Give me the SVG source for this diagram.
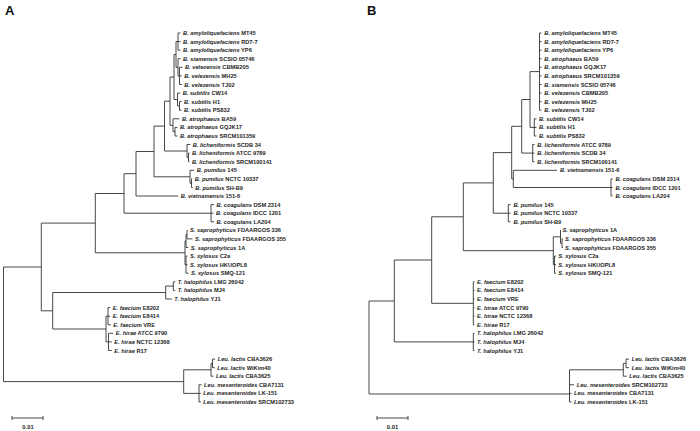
<svg xmlns="http://www.w3.org/2000/svg" width="700" height="431" viewBox="0 0 700 431">
<style>
.br{fill:none;stroke:#333;stroke-width:0.9}
text{font-family:"Liberation Sans",Arial,sans-serif;font-size:5.7px;font-weight:bold;fill:#1e1e1e}
.i{font-style:italic}
.pl{font-size:13px;font-weight:bold;fill:#111}
.sc{font-size:5.8px;text-anchor:middle}
</style>
<rect width="700" height="431" fill="#fff"/>
<text class="pl" x="5" y="15">A</text>
<text class="pl" x="367" y="15">B</text>

<g id="connectors">
<!-- Panel A -->
<path class="br" d="M3.5,267V381.6M3.5,267H41.3M3.5,381.6H183.7
M41.3,223.1V310.8M41.3,223.1H95.3M41.3,310.8H52.7
M52.7,292.5V329M52.7,292.5H165.7M52.7,329H106
M165.7,286.1V299M165.7,286.1H173.3M173.3,281.8V290.4M173.3,281.8H175.2M173.3,290.4H175.2M165.7,299H171.8
M106,316.2V341.9M106,316.2H108M108,307.6V324.8M108,307.6H110.2M108,316.2H110.2M108,324.8H110.8
M106,341.9H108.5M108.5,333.3V350.5M108.5,333.3H113.2M108.5,341.9H111.8M108.5,350.5H111.8
M95.3,193.5V252.8M95.3,252.8H185M185,240.9V264.7
M185,240.9H186M186,234.6V247.5M186,234.6H187M187,230.3V238.9M187,230.3H187.5M187,238.9H192.5M186,247.5H188.2
M185,264.7H186M186,256.1V273.2M186,256.1H187.5M186,264.7H187.5M186,273.2H188.5
M95.3,193.5H124M124,173.7V213.2M124,213.2H211M211,204.6V221.8M211,204.6H214M211,213.2H213.5M211,221.8H214
M124,173.7H136M136,151.5V196M136,196H178.2
M136,151.5H154M154,126.1V176.8
M154,176.8H190M190,170.3V183.2M190,170.3H194.2M190,183.2H191.5M191.5,178.9V187.5M191.5,178.9H192.2M191.5,187.5H192.8
M154,126.1H164.5M164.5,101.2V151
M164.5,151H187M187,144.5V157.4M187,144.5H190.2M187,157.4H188.5M188.5,153.1V161.7M188.5,153.1H189.5M188.5,161.7H189.5
M164.5,101.2H170M170,77V125.3
M170,125.3H173M173,118.8V131.7M173,118.8H179.5M173,131.7H175M175,127.4V136M175,127.4H177.5M175,136H177.5
M170,77H174M174,54.5V99.5
M174,99.5H177.5M177.5,93.1V105.9M177.5,93.1H180.2M177.5,105.9H179.5M179.5,101.6V110.2M179.5,101.6H181.5M179.5,110.2H181.5
M174,54.5H176M176,41.6V67.3
M176,41.6H178M178,33V50.2M178,33H180.5M178,41.6H180.5M178,50.2H180.5
M176,67.3H178M178,58.7V75.9M178,58.7H180.5M178,75.9H179.5M179.5,67.3V84.5M179.5,67.3H182.5M179.5,75.9H181.8M179.5,84.5H181.8
M183.7,369.8V393.4M183.7,369.8H211M211,363.4V376.2M211,376.2H213.5M211,363.4H212.5M212.5,359.1V367.7M212.5,359.1H215.2M212.5,367.7H214.8
M183.7,393.4H199M199,384.8V402M199,384.8H201.5M199,393.4H200.8M199,402H200.8"/>
<!-- Panel B -->
<path class="br" d="M369,301V394M369,301H394.3M369,394H569.5
M394.3,260V341.9M394.3,341.9H473.3M473.3,333.3V350.5M473.3,333.3H474.5M473.3,341.9H474.5M473.3,350.5H474.5
M394.3,260H431.7M431.7,216.8V303.3M431.7,303.3H473.3M473.3,281.8V324.8
M473.3,281.8H474.5M473.3,290.4H474.5M473.3,299H474.5M473.3,307.6H474.5M473.3,316.2H474.5M473.3,324.8H474.5
M431.7,216.8H463.3M463.3,182.9V250.7
M463.3,250.7H553.3M553.3,236.8V264.7M553.3,236.8H560.5M560.5,230.3V243.2M560.5,230.3H561M560.5,243.2H562M562,238.9V247.5M562,238.9H563M562,247.5H563
M553.3,264.7H554.5M554.5,256.1V273.2M554.5,256.1H556M554.5,264.7H556M554.5,273.2H556
M463.3,182.9H493.3M493.3,152.6V213.2M493.3,213.2H508.3M508.3,204.6V221.8M508.3,204.6H510.5M508.3,213.2H510.5M508.3,221.8H510.5
M493.3,152.6H511.7M511.7,126.3V178.9M511.7,178.9H513.3M513.3,170.3V187.5M513.3,170.3H557M513.3,187.5H611M611,178.9V196M611,178.9H612.5M611,187.5H612.5M611,196H612.5
M511.7,126.3H521.7M521.7,99.5V153.1M521.7,153.1H532.7M532.7,144.5V161.7M532.7,144.5H534.5M532.7,153.1H534.5M532.7,161.7H534.5
M521.7,99.5H530M530,71.6V127.4M530,127.4H534.3M534.3,118.8V136M534.3,118.8H536.5M534.3,127.4H536.5M534.3,136H536.5
M530,71.6H539.5M539.5,33V110.2
M539.5,33H541.5M539.5,41.6H541.5M539.5,50.2H541.5M539.5,58.7H541.5M539.5,67.3H541.5M539.5,75.9H541.5M539.5,84.5H541.5M539.5,93.1H541.5M539.5,101.6H541.5M539.5,110.2H541.5
M569.5,369.8V402M569.5,369.8H623.3M623.3,363.4V376.2M623.3,376.2H626.8M623.3,363.4H626M626,359.1V367.7M626,359.1H629M626,367.7H629
M569.5,384.8H574M569.5,393.4H571.5M569.5,402H571.5"/>
<!-- scale bars -->
<path class="br" d="M12,418H43M12,416V420M43,416V420M377,418H408M377,416V420M408,416V420"/>
</g>

<g id="scaleA"><text class="sc" x="28" y="429">0.01</text></g>
<g id="scaleB"><text class="sc" x="392.5" y="429">0.01</text></g>

<g id="labelsA">
<g id="A1"><text x="183" y="35"><tspan class="i">B. amyloliquefaciens</tspan> MT45</text></g>
<g id="A2"><text x="183" y="43.6"><tspan class="i">B. amyloliquefaciens</tspan> RD7-7</text></g>
<g id="A3"><text x="183" y="52.2"><tspan class="i">B. amyloliquefaciens</tspan> YP6</text></g>
<g id="A4"><text x="183" y="60.7"><tspan class="i">B. siamensis</tspan> SCSIO 05746</text></g>
<g id="A5"><text x="185" y="69.3"><tspan class="i">B. velezensis</tspan> CBMB205</text></g>
<g id="A6"><text x="184.3" y="77.9"><tspan class="i">B. velezensis</tspan> MH25</text></g>
<g id="A7"><text x="184.3" y="86.5"><tspan class="i">B. velezensis</tspan> TJ02</text></g>
<g id="A8"><text x="182.7" y="95.1"><tspan class="i">B. subtilis</tspan> CW14</text></g>
<g id="A9"><text x="184" y="103.6"><tspan class="i">B. subtilis</tspan> H1</text></g>
<g id="A10"><text x="184" y="112.2"><tspan class="i">B. subtilis</tspan> PS832</text></g>
<g id="A11"><text x="182" y="120.8"><tspan class="i">B. atrophaeus</tspan> BA59</text></g>
<g id="A12"><text x="180" y="129.4"><tspan class="i">B. atrophaeus</tspan> GQJK17</text></g>
<g id="A13"><text x="180" y="138"><tspan class="i">B. atrophaeus</tspan> SRCM101359</text></g>
<g id="A14"><text x="192.7" y="146.5"><tspan class="i">B. licheniformis</tspan> SCDB 34</text></g>
<g id="A15"><text x="192" y="155.1"><tspan class="i">B. licheniformis</tspan> ATCC 9789</text></g>
<g id="A16"><text x="192" y="163.7"><tspan class="i">B. licheniformis</tspan> SRCM100141</text></g>
<g id="A17"><text x="196.7" y="172.3"><tspan class="i">B. pumilus</tspan> 145</text></g>
<g id="A18"><text x="194.7" y="180.9"><tspan class="i">B. pumilus</tspan> NCTC 10337</text></g>
<g id="A19"><text x="195.3" y="189.5"><tspan class="i">B. pumilus</tspan> SH-B9</text></g>
<g id="A20"><text x="180.7" y="198"><tspan class="i">B. vietnamensis</tspan> 151-6</text></g>
<g id="A21"><text x="216.5" y="206.6"><tspan class="i">B. coagulans</tspan> DSM 2314</text></g>
<g id="A22"><text x="216" y="215.2"><tspan class="i">B. coagulans</tspan> IDCC 1201</text></g>
<g id="A23"><text x="216.5" y="223.8"><tspan class="i">B. coagulans</tspan> LA204</text></g>
<g id="A24"><text x="190" y="232.3"><tspan class="i">S. saprophyticus</tspan> FDAARGOS 336</text></g>
<g id="A25"><text x="195" y="240.9"><tspan class="i">S. saprophyticus</tspan> FDAARGOS 355</text></g>
<g id="A26"><text x="190.7" y="249.5"><tspan class="i">S. saprophyticus</tspan> 1A</text></g>
<g id="A27"><text x="190" y="258.1"><tspan class="i">S. xylosus</tspan> C2a</text></g>
<g id="A28"><text x="190" y="266.7"><tspan class="i">S. xylosus</tspan> HKUOPL8</text></g>
<g id="A29"><text x="191" y="275.2"><tspan class="i">S. xylosus</tspan> SMQ-121</text></g>
<g id="A30"><text x="177.7" y="283.8"><tspan class="i">T. halophilus</tspan> LMG 26042</text></g>
<g id="A31"><text x="177.7" y="292.4"><tspan class="i">T. halophilus</tspan> MJ4</text></g>
<g id="A32"><text x="174.3" y="301"><tspan class="i">T. halophilus</tspan> YJ1</text></g>
<g id="A33"><text x="112.7" y="309.6"><tspan class="i">E. faecium</tspan> E8202</text></g>
<g id="A34"><text x="112.7" y="318.2"><tspan class="i">E. faecium</tspan> E8414</text></g>
<g id="A35"><text x="113.3" y="326.8"><tspan class="i">E. faecium</tspan> VRE</text></g>
<g id="A36"><text x="115.7" y="335.3"><tspan class="i">E. hirae</tspan> ATCC 9790</text></g>
<g id="A37"><text x="114.3" y="343.9"><tspan class="i">E. hirae</tspan> NCTC 12368</text></g>
<g id="A38"><text x="114.3" y="352.5"><tspan class="i">E. hirae</tspan> R17</text></g>
<g id="A39"><text x="217.7" y="361.1"><tspan class="i">Leu. lactis</tspan> CBA3626</text></g>
<g id="A40"><text x="217.3" y="369.7"><tspan class="i">Leu. lactis</tspan> WiKim40</text></g>
<g id="A41"><text x="216" y="378.2"><tspan class="i">Leu. lactis</tspan> CBA3625</text></g>
<g id="A42"><text x="204" y="386.8"><tspan class="i">Leu. mesenteroides</tspan> CBA7131</text></g>
<g id="A43"><text x="203.3" y="395.4"><tspan class="i">Leu. mesenteroides</tspan> LK-151</text></g>
<g id="A44"><text x="203.3" y="404"><tspan class="i">Leu. mesenteroides</tspan> SRCM102733</text></g>
</g>

<g id="labelsB">
<g id="B1"><text x="544.3" y="35"><tspan class="i">B. amyloliquefaciens</tspan> MT45</text></g>
<g id="B2"><text x="544.3" y="43.6"><tspan class="i">B. amyloliquefaciens</tspan> RD7-7</text></g>
<g id="B3"><text x="544.3" y="52.2"><tspan class="i">B. amyloliquefaciens</tspan> YP6</text></g>
<g id="B4"><text x="544.3" y="60.7"><tspan class="i">B. atrophaeus</tspan> BA59</text></g>
<g id="B5"><text x="544.3" y="69.3"><tspan class="i">B. atrophaeus</tspan> GQJK17</text></g>
<g id="B6"><text x="544.3" y="77.9"><tspan class="i">B. atrophaeus</tspan> SRCM101359</text></g>
<g id="B7"><text x="544.3" y="86.5"><tspan class="i">B. siamensis</tspan> SCSIO 05746</text></g>
<g id="B8"><text x="544.3" y="95.1"><tspan class="i">B. velezensis</tspan> CBMB205</text></g>
<g id="B9"><text x="544.3" y="103.6"><tspan class="i">B. velezensis</tspan> MH25</text></g>
<g id="B10"><text x="544.3" y="112.2"><tspan class="i">B. velezensis</tspan> TJ02</text></g>
<g id="B11"><text x="539" y="120.8"><tspan class="i">B. subtilis</tspan> CW14</text></g>
<g id="B12"><text x="539" y="129.4"><tspan class="i">B. subtilis</tspan> H1</text></g>
<g id="B13"><text x="539" y="138"><tspan class="i">B. subtilis</tspan> PS832</text></g>
<g id="B14"><text x="537.3" y="146.5"><tspan class="i">B. licheniformis</tspan> ATCC 9789</text></g>
<g id="B15"><text x="537.3" y="155.1"><tspan class="i">B. licheniformis</tspan> SCDB 34</text></g>
<g id="B16"><text x="537.3" y="163.7"><tspan class="i">B. licheniformis</tspan> SRCM100141</text></g>
<g id="B17"><text x="560" y="172.3"><tspan class="i">B. vietnamensis</tspan> 151-6</text></g>
<g id="B18"><text x="615.5" y="180.9"><tspan class="i">B. coagulans</tspan> DSM 2314</text></g>
<g id="B19"><text x="615.5" y="189.5"><tspan class="i">B. coagulans</tspan> IDCC 1201</text></g>
<g id="B20"><text x="615.5" y="198"><tspan class="i">B. coagulans</tspan> LA204</text></g>
<g id="B21"><text x="513.5" y="206.6"><tspan class="i">B. pumilus</tspan> 145</text></g>
<g id="B22"><text x="513.5" y="215.2"><tspan class="i">B. pumilus</tspan> NCTC 10337</text></g>
<g id="B23"><text x="513.5" y="223.8"><tspan class="i">B. pumilus</tspan> SH-B9</text></g>
<g id="B24"><text x="562.5" y="232.3"><tspan class="i">S. saprophyticus</tspan> 1A</text></g>
<g id="B25"><text x="565" y="240.9"><tspan class="i">S. saprophyticus</tspan> FDAARGOS 336</text></g>
<g id="B26"><text x="565" y="249.5"><tspan class="i">S. saprophyticus</tspan> FDAARGOS 355</text></g>
<g id="B27"><text x="558.3" y="258.1"><tspan class="i">S. xylosus</tspan> C2a</text></g>
<g id="B28"><text x="558.3" y="266.7"><tspan class="i">S. xylosus</tspan> HKUOPL8</text></g>
<g id="B29"><text x="558.3" y="275.2"><tspan class="i">S. xylosus</tspan> SMQ-121</text></g>
<g id="B30"><text x="477" y="283.8"><tspan class="i">E. faecium</tspan> E8202</text></g>
<g id="B31"><text x="477" y="292.4"><tspan class="i">E. faecium</tspan> E8414</text></g>
<g id="B32"><text x="477" y="301"><tspan class="i">E. faecium</tspan> VRE</text></g>
<g id="B33"><text x="477" y="309.6"><tspan class="i">E. hirae</tspan> ATCC 9790</text></g>
<g id="B34"><text x="477" y="318.2"><tspan class="i">E. hirae</tspan> NCTC 12368</text></g>
<g id="B35"><text x="477" y="326.8"><tspan class="i">E. hirae</tspan> R17</text></g>
<g id="B36"><text x="477" y="335.3"><tspan class="i">T. halophilus</tspan> LMG 26042</text></g>
<g id="B37"><text x="477" y="343.9"><tspan class="i">T. halophilus</tspan> MJ4</text></g>
<g id="B38"><text x="477" y="352.5"><tspan class="i">T. halophilus</tspan> YJ1</text></g>
<g id="B39"><text x="631.7" y="361.1"><tspan class="i">Leu. lactis</tspan> CBA3626</text></g>
<g id="B40"><text x="631.7" y="369.7"><tspan class="i">Leu. lactis</tspan> WiKim40</text></g>
<g id="B41"><text x="629.3" y="378.2"><tspan class="i">Leu. lactis</tspan> CBA3625</text></g>
<g id="B42"><text x="576.7" y="386.8"><tspan class="i">Leu. mesenteroides</tspan> SRCM102733</text></g>
<g id="B43"><text x="574" y="395.4"><tspan class="i">Leu. mesenteroides</tspan> CBA7131</text></g>
<g id="B44"><text x="574" y="404"><tspan class="i">Leu. mesenteroides</tspan> LK-151</text></g>
</g>
</svg>
